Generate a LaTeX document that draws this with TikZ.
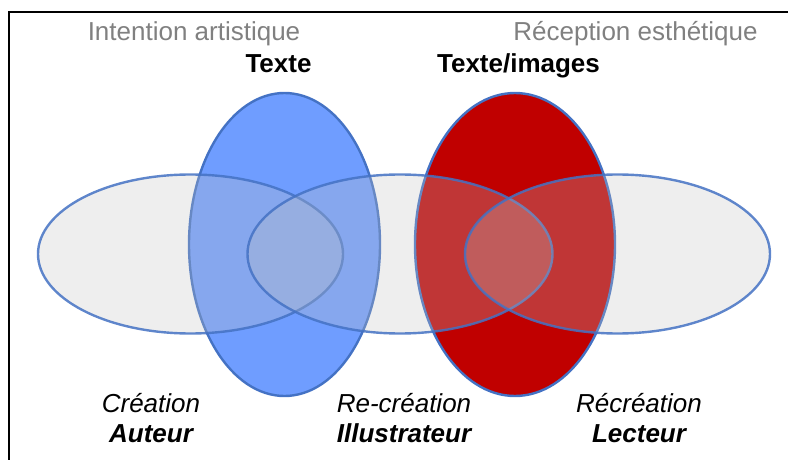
\documentclass[tikz,border=0pt]{standalone}
\usepackage{fontspec}
\setmainfont{Liberation Sans}
\usetikzlibrary{shapes,positioning}
\definecolor{lineblue}{RGB}{68,114,196}
\definecolor{fillblue}{RGB}{111,157,255}
\definecolor{fillred}{RGB}{192,0,0}
\definecolor{fillgrey}{RGB}{194,194,194}
\definecolor{titlegrey}{RGB}{128,128,128}
\tikzstyle{medium} = [ellipse, draw=lineblue, line width=2.4pt, minimum width=191pt, minimum height=303pt]
\tikzstyle{role} = [ellipse, draw=lineblue, line width=2.4pt, fill=fillgrey, fill opacity=0.28,
 draw opacity=0.85, minimum width=305pt, minimum height=159pt]
\tikzstyle{intent} = [text=titlegrey, font=\fontsize{26}{30}\selectfont, anchor=base, inner sep=0pt]
\tikzstyle{work} = [font=\fontsize{26}{30}\selectfont\bfseries, anchor=base, inner sep=0pt]
\tikzstyle{phase} = [font=\fontsize{26}{30}\selectfont\itshape, anchor=base, inner sep=0pt]
\tikzstyle{actor} = [font=\fontsize{26}{30}\selectfont\bfseries\itshape, inner sep=0pt]

\begin{document}
\begin{tikzpicture}[x=1pt, y=-1pt]
        \useasboundingbox (0,0) rectangle (788,460);
        \draw[line width=2.5pt] (788,12) -- (9,12) -- (9,460);

        % vertical ellipses first, the grey ones lie over them
        \node[medium, fill=fillblue]                     (texte)  at (284.5,244.5){};
        \node[medium, fill=fillred, minimum width=200pt] (images) at (515,244.5){};

        \node[role] (auteur)       at (190.5,254){};
        \node[role] (illustrateur) at (400,254){};
        \node[role] (lecteur)      at (617.5,254){};

        \node[intent] (intention) at (194,40.5){Intention artistique};
        \node[intent] (reception) at (635.5,40.5){Réception esthétique};
        \node[work]   (textetitle)  at (278.5,73){Texte};
        \node[work]   (imagestitle) at (518.5,73){Texte/images};

        \node[phase] (creation)   at (151,412){Création};
        \node[phase] (recreation) at (404,412){Re-création};
        \node[phase] (recreatio)  at (639,412){Récréation};
        \node[actor, below=30pt of creation.base, anchor=base]   (auteurname){Auteur};
        \node[actor, below=30pt of recreation.base, anchor=base] (illustrateurname){Illustrateur};
        \node[actor, below=30pt of recreatio.base, anchor=base]  (lecteurname){Lecteur};
      \end{tikzpicture}
\end{document}
